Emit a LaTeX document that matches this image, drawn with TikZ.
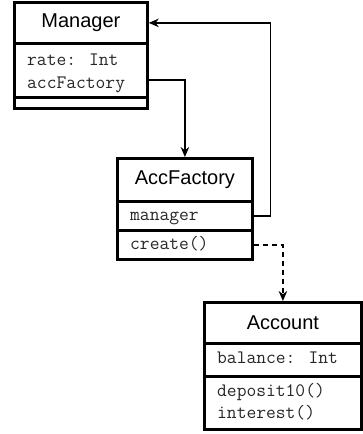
\documentclass[tikz,border=0pt]{standalone}
\usepackage{fontspec}
\setmainfont{Liberation Sans}
\usetikzlibrary{arrows.meta}
\begin{document}
\begin{tikzpicture}[x=1pt,y=-1pt,
  comp/.style={draw,line width=2.8pt,rectangle,inner sep=0pt,anchor=north west},
  umltitle/.style={font=\fontsize{20}{24}\selectfont},
  umlattr/.style={font=\ttfamily\fontsize{19}{22}\selectfont,text=black!85,anchor=base west,inner sep=0pt},
  link/.style={line width=1.3pt,-{Stealth[length=10pt,width=8.5pt]}},
]
\useasboundingbox (0,0) rectangle (363,434);
% Manager
\node[comp,minimum width=133pt,minimum height=41pt,umltitle] (mgrTitle) at (13,1) {Manager};
\node[comp,minimum width=133pt,minimum height=54pt] (mgrAttr) at (13,42) {};
\node[comp,minimum width=133pt,minimum height=11pt] (mgrOps) at (13,96) {};
\node[umlattr] (mgrRate) at (27,65) {rate: Int};
\node[umlattr] (mgrAcc) at (27,88) {accFactory};
% AccFactory
\node[comp,minimum width=135pt,minimum height=43pt,umltitle] (facTitle) at (116,157) {AccFactory};
\node[comp,minimum width=135pt,minimum height=29pt] (facAttr) at (116,200) {};
\node[comp,minimum width=135pt,minimum height=29pt] (facOps) at (116,229) {};
\node[umlattr] (facMgr) at (130,220) {manager};
\node[umlattr] (facCreate) at (130,249) {create()};
% Account
\node[comp,minimum width=157pt,minimum height=41pt,umltitle] (accTitle) at (203,301) {Account};
\node[comp,minimum width=157pt,minimum height=33pt] (accAttr) at (203,342) {};
\node[comp,minimum width=157pt,minimum height=53pt] (accOps) at (203,375) {};
\node[umlattr] (accBal) at (217,363) {balance: Int};
\node[umlattr] (accDep) at (217,396) {deposit10()};
\node[umlattr] (accInt) at (217,418) {interest()};
% connectors
\coordinate (mgrLink) at (146,80);
\draw[link] (facAttr.east) -- ++(17,0) |- (mgrTitle.east);
\draw[link] (mgrLink) -| (facTitle.north);
\draw[link,dash pattern=on 5pt off 4pt] (facOps.east) -| (accTitle.north);
\end{tikzpicture}
\end{document}
